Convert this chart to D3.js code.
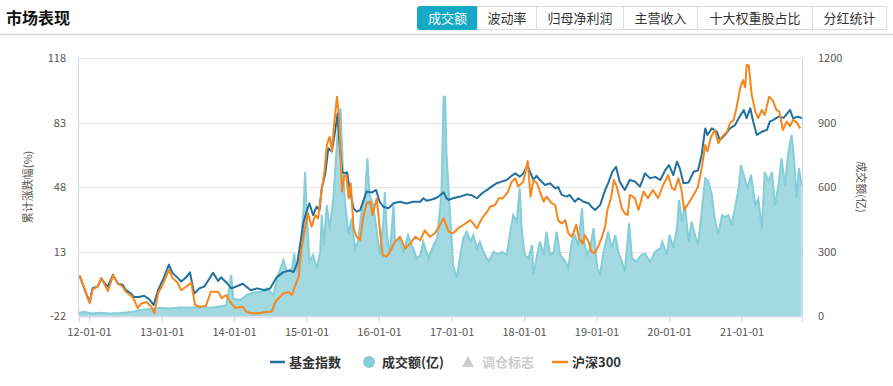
<!DOCTYPE html>
<html>
<head>
<meta charset="utf-8">
<script src="https://cdn.jsdelivr.net/npm/d3@7"></script>
<style>
  body { margin: 0; background: #fff; font-family: "Noto Sans CJK SC", "Noto Sans", sans-serif; }
  svg { display: block; }
</style>
</head>
<body>
<div id="chart"></div>
<script>
// tabs over the chart
const tabs = ["成交额", "波动率", "归母净利润", "主营收入", "十大权重股占比", "分红统计"];
const tabWidths = [60, 59, 87, 74, 115, 74];

// left axis ticks (%) and right axis ticks (亿)
const leftTicks = [-22, 13, 48, 83, 118];
const rightTicks = [0, 300, 600, 900, 1200];

// [decimal year, cumulative change %] for the fund index
const fundIndex = [
  [2011.87, 0], [2011.91, -4.5], [2011.98, -11.7], [2012.01, -14.4], [2012.05, -6.9], [2012.12, -6],
  [2012.17, -1.5], [2012.21, -4], [2012.26, -6], [2012.33, 0.3], [2012.40, -4.5], [2012.46, -5],
  [2012.51, -8], [2012.58, -9.8], [2012.62, -11.7], [2012.69, -11.7], [2012.76, -11], [2012.83, -13],
  [2012.89, -16], [2012.95, -8], [2013.02, -2.2], [2013.10, 5.9], [2013.15, 1.4], [2013.20, -0.5],
  [2013.27, -3.3], [2013.34, -1], [2013.39, 1.7], [2013.45, -9.8], [2013.52, -7], [2013.59, -6],
  [2013.71, 1.4], [2013.78, -3], [2013.82, -1], [2013.91, -4.5], [2013.96, -7], [2014.03, -6],
  [2014.12, -4.5], [2014.23, -8], [2014.32, -7], [2014.42, -8], [2014.50, -7], [2014.59, -0.9],
  [2014.68, 1.8], [2014.77, 2.7], [2014.82, 1.8], [2014.87, 6.4], [2014.91, 16.3], [2014.96, 29.2],
  [2015.00, 34.6], [2015.04, 39.2], [2015.09, 32.8], [2015.14, 37.3], [2015.18, 35.5], [2015.21, 47.3],
  [2015.26, 55.4], [2015.30, 69], [2015.35, 67.2], [2015.39, 77.2], [2015.43, 88], [2015.45, 74.4],
  [2015.49, 56.3], [2015.53, 55.4], [2015.56, 56], [2015.60, 45.5], [2015.65, 36.4], [2015.69, 34.6],
  [2015.74, 35.5], [2015.78, 40], [2015.83, 45.5], [2015.90, 45], [2015.96, 46.4], [2016.01, 40],
  [2016.06, 37.3], [2016.13, 36.4], [2016.20, 39.2], [2016.29, 40], [2016.38, 39], [2016.47, 40],
  [2016.57, 40], [2016.61, 41.9], [2016.66, 40.5], [2016.75, 41.5], [2016.82, 42.8], [2016.89, 45.1],
  [2016.93, 41.9], [2016.96, 41], [2017.02, 41.9], [2017.12, 42.8], [2017.21, 44], [2017.28, 43.5],
  [2017.35, 41.9], [2017.42, 44.6], [2017.49, 46.4], [2017.55, 48.2], [2017.62, 50], [2017.69, 50.9],
  [2017.76, 51.8], [2017.83, 54.1], [2017.88, 55.4], [2017.94, 53.6], [2017.99, 55.4], [2018.05, 60],
  [2018.08, 56.3], [2018.13, 51.8], [2018.17, 54.1], [2018.22, 51.8], [2018.29, 49.1], [2018.36, 50],
  [2018.43, 47.3], [2018.47, 48], [2018.52, 43.7], [2018.59, 42.8], [2018.63, 43.7], [2018.70, 40],
  [2018.75, 41.9], [2018.82, 40], [2018.89, 39.2], [2018.93, 37.3], [2018.98, 35.5], [2019.05, 38.2],
  [2019.12, 46.4], [2019.16, 50], [2019.22, 56.3], [2019.27, 59], [2019.32, 50.9], [2019.39, 46.4],
  [2019.46, 51.8], [2019.53, 51], [2019.60, 48.2], [2019.67, 55.4], [2019.74, 52.7], [2019.81, 53.5],
  [2019.88, 51.8], [2019.95, 57.2], [2020.00, 59.9], [2020.06, 54.5], [2020.11, 61.7], [2020.15, 58.1],
  [2020.20, 50], [2020.27, 50.5], [2020.34, 56.3], [2020.40, 57], [2020.45, 65.4], [2020.50, 79.8],
  [2020.53, 76.2], [2020.59, 79.8], [2020.66, 78], [2020.70, 73.5], [2020.77, 76.2], [2020.84, 79.8],
  [2020.91, 81.6], [2020.96, 85.3], [2021.03, 89.8], [2021.07, 85.3], [2021.12, 90.7], [2021.16, 83.5],
  [2021.21, 76.2], [2021.28, 78], [2021.35, 79], [2021.39, 83.5], [2021.44, 84.4], [2021.51, 86.2],
  [2021.58, 85.5], [2021.67, 89.8], [2021.71, 85.3], [2021.78, 86.2], [2021.83, 85.3]
];

// [decimal year, cumulative change %] for 沪深300
const hs300 = [
  [2011.87, 0], [2011.91, -4], [2011.98, -12], [2012.01, -15], [2012.05, -7.5], [2012.12, -6],
  [2012.17, -1.5], [2012.21, -4.5], [2012.26, -8.5], [2012.33, 0], [2012.40, -4.5], [2012.46, -6],
  [2012.51, -9], [2012.58, -11], [2012.62, -13], [2012.67, -17.7], [2012.72, -15.2], [2012.79, -14.4],
  [2012.86, -17], [2012.90, -20.5], [2012.95, -9.8], [2013.02, -4.5], [2013.10, 3.1], [2013.15, -1.3],
  [2013.22, -4], [2013.27, -8], [2013.34, -6], [2013.41, -4], [2013.46, -16], [2013.53, -17],
  [2013.61, -16.5], [2013.68, -8.8], [2013.78, -8.8], [2013.83, -12.4], [2013.89, -10.6], [2013.96, -15],
  [2014.02, -17.7], [2014.12, -17], [2014.17, -19.6], [2014.23, -20.5], [2014.34, -20.5], [2014.42, -20],
  [2014.52, -19.6], [2014.57, -14.4], [2014.63, -11.7], [2014.68, -9.8], [2014.75, -9], [2014.80, -10.6],
  [2014.84, -6], [2014.89, -0.9], [2014.93, 14.6], [2014.98, 25.6], [2015.02, 33.7], [2015.07, 26.5],
  [2015.12, 32.8], [2015.16, 31], [2015.20, 43.7], [2015.25, 57.2], [2015.28, 70.8], [2015.32, 75.3],
  [2015.35, 67.2], [2015.38, 81.6], [2015.42, 97], [2015.45, 85.3], [2015.49, 45.5], [2015.52, 53.6],
  [2015.55, 54.5], [2015.58, 41.9], [2015.61, 50], [2015.65, 25.6], [2015.69, 21], [2015.74, 19.2],
  [2015.78, 31], [2015.83, 39.2], [2015.88, 40], [2015.91, 32.8], [2015.97, 41.9], [2016.01, 25.6],
  [2016.05, 11.1], [2016.10, 10.2], [2016.15, 12.9], [2016.22, 18.3], [2016.29, 21], [2016.36, 14.6],
  [2016.43, 17.3], [2016.50, 21], [2016.57, 19.2], [2016.63, 24.5], [2016.70, 21], [2016.77, 22.9],
  [2016.84, 27.4], [2016.89, 31], [2016.96, 23.8], [2017.02, 22.9], [2017.09, 25.6], [2017.16, 27.4],
  [2017.26, 30], [2017.35, 25.6], [2017.42, 31], [2017.49, 34.6], [2017.53, 37.3], [2017.60, 38.2],
  [2017.65, 41.9], [2017.71, 41.9], [2017.78, 45.5], [2017.83, 50.9], [2017.88, 52.7], [2017.92, 48.2],
  [2017.99, 50.9], [2018.05, 62.1], [2018.09, 42.8], [2018.13, 51.8], [2018.18, 50], [2018.22, 45.5],
  [2018.27, 40], [2018.31, 42.8], [2018.38, 39.2], [2018.43, 38.2], [2018.47, 30], [2018.52, 28.2],
  [2018.57, 30], [2018.61, 22.9], [2018.66, 21], [2018.72, 27.4], [2018.76, 20.1], [2018.81, 17.3],
  [2018.84, 21.9], [2018.89, 18.3], [2018.93, 12.9], [2018.97, 12], [2019.02, 15.5], [2019.07, 20.1],
  [2019.12, 26.5], [2019.15, 35.5], [2019.20, 41.9], [2019.24, 51.8], [2019.28, 48.2], [2019.35, 36.4],
  [2019.39, 33.7], [2019.43, 32.8], [2019.46, 43.7], [2019.53, 41.9], [2019.58, 35.5], [2019.65, 45.5],
  [2019.71, 41.9], [2019.78, 46.4], [2019.85, 41.9], [2019.92, 49.1], [2019.99, 54.5], [2020.04, 47.3],
  [2020.08, 46.4], [2020.13, 52.7], [2020.17, 47], [2020.21, 35.5], [2020.27, 39.2], [2020.34, 43.7],
  [2020.40, 48.2], [2020.45, 58.1], [2020.50, 70.8], [2020.53, 67.2], [2020.58, 75.3], [2020.63, 78.9],
  [2020.68, 71.7], [2020.73, 75.3], [2020.80, 78], [2020.84, 82.6], [2020.89, 84.4], [2020.93, 90.7],
  [2020.98, 101.6], [2021.02, 106], [2021.05, 102], [2021.07, 114.2], [2021.10, 114], [2021.14, 98],
  [2021.19, 88.9], [2021.23, 85.3], [2021.28, 89.8], [2021.32, 87], [2021.38, 97], [2021.43, 95],
  [2021.48, 89.8], [2021.52, 89], [2021.57, 78.9], [2021.62, 83.5], [2021.67, 81], [2021.71, 84.4],
  [2021.76, 83], [2021.81, 79.8]
];

// [decimal year, turnover 亿]
const turnover = [
  [2011.86, 15], [2011.94, 20], [2012.04, 12], [2012.15, 15], [2012.29, 12], [2012.43, 14],
  [2012.61, 20], [2012.70, 28], [2012.84, 32], [2012.98, 38], [2013.12, 35], [2013.26, 40],
  [2013.39, 38], [2013.53, 42], [2013.67, 38], [2013.81, 45], [2013.89, 50], [2013.93, 120],
  [2013.96, 190], [2013.99, 80], [2014.08, 74], [2014.19, 100], [2014.29, 110], [2014.39, 113],
  [2014.45, 129], [2014.54, 98], [2014.61, 191], [2014.68, 260], [2014.73, 206], [2014.80, 222],
  [2014.83, 291], [2014.86, 206], [2014.91, 284], [2014.96, 501], [2014.98, 671], [2015.00, 501],
  [2015.04, 253], [2015.09, 284], [2015.14, 222], [2015.19, 299], [2015.21, 470], [2015.24, 330],
  [2015.28, 516], [2015.32, 408], [2015.37, 547], [2015.41, 749], [2015.44, 904], [2015.47, 966],
  [2015.50, 702], [2015.53, 532], [2015.58, 377], [2015.62, 454], [2015.67, 315], [2015.71, 346],
  [2015.76, 485], [2015.81, 563], [2015.84, 733], [2015.87, 563], [2015.92, 516], [2015.97, 392],
  [2016.01, 284], [2016.06, 439], [2016.08, 578], [2016.11, 377], [2016.15, 284], [2016.20, 516],
  [2016.22, 346], [2016.27, 361], [2016.34, 299], [2016.40, 377], [2016.47, 315], [2016.52, 268],
  [2016.57, 284], [2016.61, 346], [2016.68, 268], [2016.75, 330], [2016.80, 361], [2016.86, 563],
  [2016.89, 1020], [2016.91, 1020], [2016.93, 749], [2016.98, 470], [2017.02, 237], [2017.07, 175],
  [2017.12, 284], [2017.16, 361], [2017.21, 392], [2017.26, 346], [2017.30, 377], [2017.35, 315],
  [2017.39, 346], [2017.44, 299], [2017.51, 253], [2017.58, 299], [2017.65, 284], [2017.69, 299],
  [2017.76, 284], [2017.81, 392], [2017.85, 470], [2017.90, 439], [2017.94, 594], [2017.97, 392],
  [2018.01, 284], [2018.06, 268], [2018.11, 330], [2018.13, 191], [2018.18, 284], [2018.22, 346],
  [2018.27, 284], [2018.31, 392], [2018.36, 284], [2018.41, 299], [2018.45, 392], [2018.50, 284],
  [2018.57, 253], [2018.61, 222], [2018.66, 346], [2018.70, 377], [2018.75, 330], [2018.80, 501],
  [2018.83, 346], [2018.87, 284], [2018.91, 315], [2018.96, 408], [2019.01, 222], [2019.05, 198],
  [2019.09, 284], [2019.14, 361], [2019.16, 392], [2019.21, 315], [2019.26, 377], [2019.30, 299],
  [2019.35, 253], [2019.37, 230], [2019.39, 206], [2019.45, 431], [2019.49, 268], [2019.55, 253],
  [2019.62, 284], [2019.67, 290], [2019.74, 253], [2019.81, 299], [2019.88, 315], [2019.91, 346],
  [2019.97, 284], [2020.01, 377], [2020.06, 315], [2020.11, 408], [2020.14, 540], [2020.18, 439],
  [2020.22, 516], [2020.27, 346], [2020.31, 439], [2020.36, 377], [2020.40, 330], [2020.45, 485],
  [2020.50, 640], [2020.54, 630], [2020.59, 563], [2020.63, 454], [2020.68, 377], [2020.73, 470],
  [2020.77, 460], [2020.82, 470], [2020.86, 423], [2020.91, 501], [2020.96, 594], [2020.99, 702],
  [2021.03, 656], [2021.08, 594], [2021.13, 656], [2021.19, 516], [2021.23, 547], [2021.28, 408],
  [2021.32, 671], [2021.37, 625], [2021.42, 671], [2021.46, 516], [2021.51, 609], [2021.55, 733],
  [2021.60, 609], [2021.64, 749], [2021.69, 842], [2021.72, 749], [2021.76, 547], [2021.79, 687],
  [2021.83, 609]
];

const W = 893, H = 386;
const margin = { left: 79, right: 91, top: 58, bottom: 70 };
const plotW = W - margin.left - margin.right;
const plotH = H - margin.top - margin.bottom;

// decimal year -> Date
function yearToDate(t) {
  const y = Math.floor(t);
  const start = new Date(y, 0, 1), end = new Date(y + 1, 0, 1);
  return new Date(+start + (t - y) * (end - start));
}

const svg = d3.select("#chart").append("svg")
  .attr("width", W)
  .attr("height", H);

// header
svg.append("text")
  .attr("x", 6).attr("y", 24)
  .attr("font-size", 16).attr("font-weight", "bold").attr("fill", "#111")
  .text("市场表现");

svg.append("line")
  .attr("x1", 0).attr("x2", W).attr("y1", 34.5).attr("y2", 34.5)
  .attr("stroke", "#d4d4d4").attr("stroke-width", 1.5);

const tabG = svg.append("g").attr("transform", "translate(417,6)");
let tx = 0;
tabs.forEach((t, i) => {
  const w = tabWidths[i];
  tabG.append("rect")
    .attr("x", tx + 0.5).attr("y", 0.5).attr("width", w).attr("height", 23)
    .attr("rx", i === 0 ? 2 : 0)
    .attr("fill", i === 0 ? "#16a9c5" : "#fff")
    .attr("stroke", i === 0 ? "#16a9c5" : "#dcdcdc");
  tabG.append("text")
    .attr("x", tx + w / 2 + 0.5).attr("y", 17)
    .attr("text-anchor", "middle").attr("font-size", 13)
    .attr("fill", i === 0 ? "#fff" : "#333")
    .text(t);
  tx += w;
});

// scales
const x = d3.scaleTime()
  .domain([yearToDate(2011.862), yearToDate(2021.834)])
  .range([margin.left, margin.left + plotW]);
const yL = d3.scaleLinear().domain([-22, 118]).range([margin.top + plotH, margin.top]);
const yR = d3.scaleLinear().domain([0, 1200]).range([margin.top + plotH, margin.top]);

// grid
svg.append("g")
  .selectAll("line")
  .data(leftTicks)
  .join("line")
  .attr("x1", margin.left).attr("x2", margin.left + plotW)
  .attr("y1", d => Math.round(yL(d)) + 0.5).attr("y2", d => Math.round(yL(d)) + 0.5)
  .attr("stroke", "#e6e6e6");

// turnover area
const area = d3.area()
  .x(d => x(yearToDate(d[0])))
  .y0(yR(0))
  .y1(d => yR(d[1]))
  .curve(d3.curveLinear);
svg.append("path")
  .datum(turnover)
  .attr("d", area)
  .attr("fill", "#a3d9e1");
svg.append("path")
  .datum(turnover)
  .attr("d", d3.line().x(d => x(yearToDate(d[0]))).y(d => yR(d[1])))
  .attr("fill", "none")
  .attr("stroke", "#85cdd8")
  .attr("stroke-width", 2);

// lines
const line = d3.line()
  .x(d => x(yearToDate(d[0])))
  .y(d => yL(d[1]));
svg.append("path")
  .datum(fundIndex)
  .attr("d", line)
  .attr("fill", "none")
  .attr("stroke", "#21719f")
  .attr("stroke-width", 2)
  .attr("stroke-linejoin", "round");
svg.append("path")
  .datum(hs300)
  .attr("d", line)
  .attr("fill", "none")
  .attr("stroke", "#f7861c")
  .attr("stroke-width", 2)
  .attr("stroke-linejoin", "round");

// axes
const axisColor = "#ccd6eb";
const xAxis = d3.axisBottom(x)
  .ticks(d3.timeYear.every(1))
  .tickFormat(d3.timeFormat("%y-%m-%d"))
  .tickSize(6);
const gx = svg.append("g")
  .attr("transform", `translate(0,${margin.top + plotH + 0.5})`)
  .call(xAxis);
gx.select(".domain").attr("stroke", axisColor);
gx.selectAll(".tick line").attr("stroke", axisColor);
gx.selectAll(".tick text")
  .attr("fill", "#555").attr("font-size", 11)
  .attr("font-family", "'Noto Sans CJK SC', sans-serif")
  .attr("dy", "0.95em");

svg.append("line")
  .attr("x1", margin.left - 0.5).attr("x2", margin.left - 0.5)
  .attr("y1", margin.top).attr("y2", margin.top + plotH)
  .attr("stroke", axisColor);
svg.append("line")
  .attr("x1", margin.left + plotW + 0.5).attr("x2", margin.left + plotW + 0.5)
  .attr("y1", margin.top).attr("y2", margin.top + plotH)
  .attr("stroke", axisColor);

svg.append("g")
  .selectAll("text")
  .data(leftTicks)
  .join("text")
  .attr("x", 66).attr("y", d => yL(d) + 4)
  .attr("text-anchor", "end").attr("font-size", 11).attr("fill", "#555")
  .text(d => d);

svg.append("g")
  .selectAll("text")
  .data(rightTicks)
  .join("text")
  .attr("x", 818).attr("y", d => yR(d) + 4)
  .attr("font-size", 11).attr("fill", "#555")
  .text(d => d);

svg.append("text")
  .attr("transform", `translate(32,${margin.top + plotH / 2}) rotate(-90)`)
  .attr("text-anchor", "middle").attr("font-size", 11).attr("fill", "#555")
  .text("累计涨跌幅(%)");
svg.append("text")
  .attr("transform", `translate(857,${margin.top + plotH / 2}) rotate(90)`)
  .attr("text-anchor", "middle").attr("font-size", 11).attr("fill", "#555")
  .text("成交额(亿)");

// legend
const lg = svg.append("g").attr("transform", "translate(0,362)");
lg.append("line").attr("x1", 270).attr("x2", 285).attr("y1", 0).attr("y2", 0)
  .attr("stroke", "#21719f").attr("stroke-width", 2.5);
lg.append("text").attr("x", 289).attr("y", 5).attr("font-size", 13).attr("font-weight", "bold")
  .attr("fill", "#333").text("基金指数");
lg.append("circle").attr("cx", 369).attr("cy", 0).attr("r", 6).attr("fill", "#85cdd8");
lg.append("text").attr("x", 382).attr("y", 5).attr("font-size", 13).attr("font-weight", "bold")
  .attr("fill", "#333").text("成交额(亿)");
lg.append("path").attr("d", "M468,-6L474,5L462,5Z").attr("fill", "#ccc");
lg.append("text").attr("x", 482).attr("y", 5).attr("font-size", 13).attr("font-weight", "bold")
  .attr("fill", "#ccc").text("调仓标志");
lg.append("line").attr("x1", 552).attr("x2", 568).attr("y1", 0).attr("y2", 0)
  .attr("stroke", "#f7861c").attr("stroke-width", 2.5);
lg.append("text").attr("x", 572).attr("y", 5).attr("font-size", 13).attr("font-weight", "bold")
  .attr("fill", "#333").text("沪深300");
</script>
</body>
</html>
